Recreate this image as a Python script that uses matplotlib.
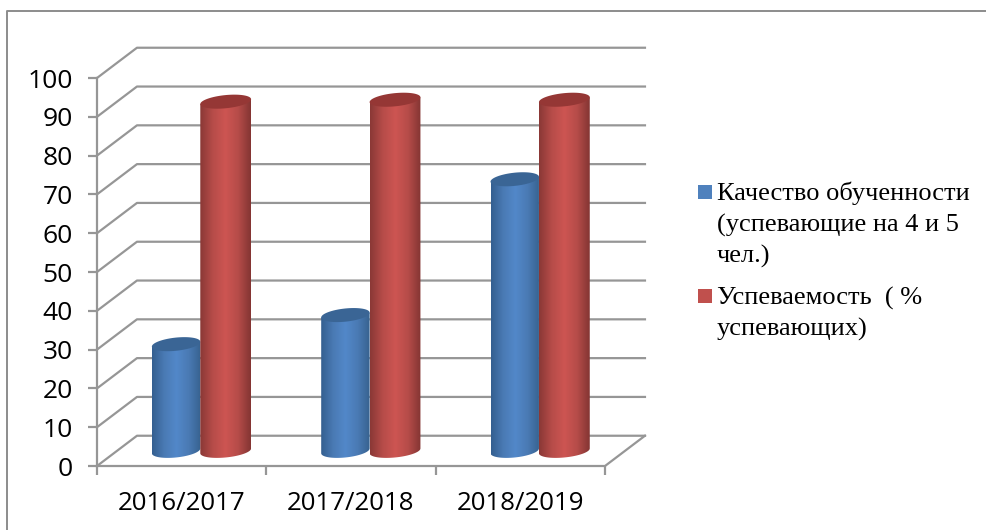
import numpy as np
import matplotlib
matplotlib.use('Agg')
import matplotlib.pyplot as plt
from matplotlib.colors import LinearSegmentedColormap
from matplotlib.lines import Line2D
from matplotlib.patches import Polygon, Rectangle

# chart values
years = ['2016/2017', '2017/2018', '2018/2019']
kachestvo = [27.5, 35, 70]
uspevaemost = [90, 90.5, 90.5]
y_ticks = list(range(0, 101, 10))
label_blue = 'Качество обученности\n(успевающие на 4 и 5\nчел.)'
label_red = 'Успеваемость  ( %\nуспевающих)'

W, H = 987, 530
GRID = '#969696'

fig = plt.figure(figsize=(W / 100, H / 100), dpi=100)

# page frame, only left and top sides are in the picture
frame_x = [7.5 / W, 7.5 / W, 1]
frame_y = [0, 1 - 10.5 / H, 1 - 10.5 / H]
fig.add_artist(Line2D(frame_x, frame_y, transform=fig.transFigure, color='#8c8c8c', linewidth=1.4))

# axes = front plane of the 3d box
ax = fig.add_axes([97 / W, 1 - 466 / H, 508 / W, 388 / H])
ax.set_xlim(0, 3)
ax.set_ylim(0, 100)
ax.patch.set_alpha(0)
for s in ['top', 'right', 'bottom']:
    ax.spines[s].set_visible(False)
ax.spines['left'].set_color(GRID)
ax.spines['left'].set_linewidth(1.6)

# depth of the box in data units
dx = 0.236
dy = 7.8

for v in y_ticks:
    ax.plot([0, dx, 3 + dx], [v, v + dy, v + dy], color=GRID, linewidth=1.6, clip_on=False, zorder=1)
ax.plot([0, 3, 3 + dx], [0, 0, dy], color=GRID, linewidth=1.6, clip_on=False, zorder=1)

ax.set_yticks(y_ticks)
ax.set_xticks([0, 1, 2, 3])
ax.set_xticklabels([])
ax.tick_params(axis='both', color=GRID, width=1.6, length=6.5)
ax.tick_params(axis='y', labelsize=19, pad=11)
for lab in ax.get_yticklabels():
    lab.set_family('Open Sans')
for i, name in enumerate(years):
    ax.annotate(name, (i + 0.5, 0), xytext=(0, -18), textcoords='offset points', ha='center', va='top',
                fontsize=18.6, family='Open Sans', annotation_clip=False)

blue_cm = LinearSegmentedColormap.from_list('b', ['#345f90', '#4a7ab4', '#5288c9', '#4a7ab4', '#37628f'])
red_cm = LinearSegmentedColormap.from_list('r', ['#8a3836', '#b64c49', '#cd5552', '#b64c49', '#843533'])


def cylinder(xc, value, half, cmap, top_color, z):
    # bar stands in the middle of the box depth
    base = 3.9
    top = base + value
    t = np.linspace(0, np.pi, 60)
    ex = xc - half * np.cos(t)
    tilt = 0.62 * np.cos(t)
    rise = 1.7 * np.sin(t)
    # body goes up to the centre line of the top ellipse, which is drawn over it
    px = np.concatenate([ex, ex[::-1]])
    py = np.concatenate([base - tilt - rise, top - tilt[::-1]])
    poly = Polygon(np.column_stack([px, py]), closed=True, transform=ax.transData, facecolor='none', edgecolor='none')
    ax.add_patch(poly)
    im = ax.imshow(np.linspace(0, 1, 200).reshape(1, -1), cmap=cmap, extent=[xc - half, xc + half, 0, 100],
                   aspect='auto', zorder=z, interpolation='bilinear')
    im.set_clip_path(poly)
    # top ellipse
    tt = np.linspace(0, 2 * np.pi, 120)
    ax.fill(xc - half * np.cos(tt), top - 0.62 * np.cos(tt) + 1.7 * np.sin(tt), color=top_color, zorder=z + 0.1,
            linewidth=0, clip_on=False)


for i in range(len(years)):
    cylinder(i + 0.467, kachestvo[i], 0.143, blue_cm, '#3a6595', 3)
    cylinder(i + 0.76, uspevaemost[i], 0.15, red_cm, '#953735', 4)
ax.set_xlim(0, 3)
ax.set_ylim(0, 100)

# legend
fig.patches.append(Rectangle((698 / W, 1 - 199 / H), 14 / W, 14 / H, transform=fig.transFigure, facecolor='#4f81bd'))
fig.patches.append(Rectangle((698 / W, 1 - 303 / H), 14 / W, 14 / H, transform=fig.transFigure, facecolor='#c0504d'))
fig.text(717 / W, 1 - 182 / H, label_blue, family='Liberation Serif', fontsize=19, va='top', linespacing=1.46)
fig.text(717 / W, 1 - 287 / H, label_red, family='Liberation Serif', fontsize=19, va='top', linespacing=1.46)

fig.savefig('out.png', dpi=100)
